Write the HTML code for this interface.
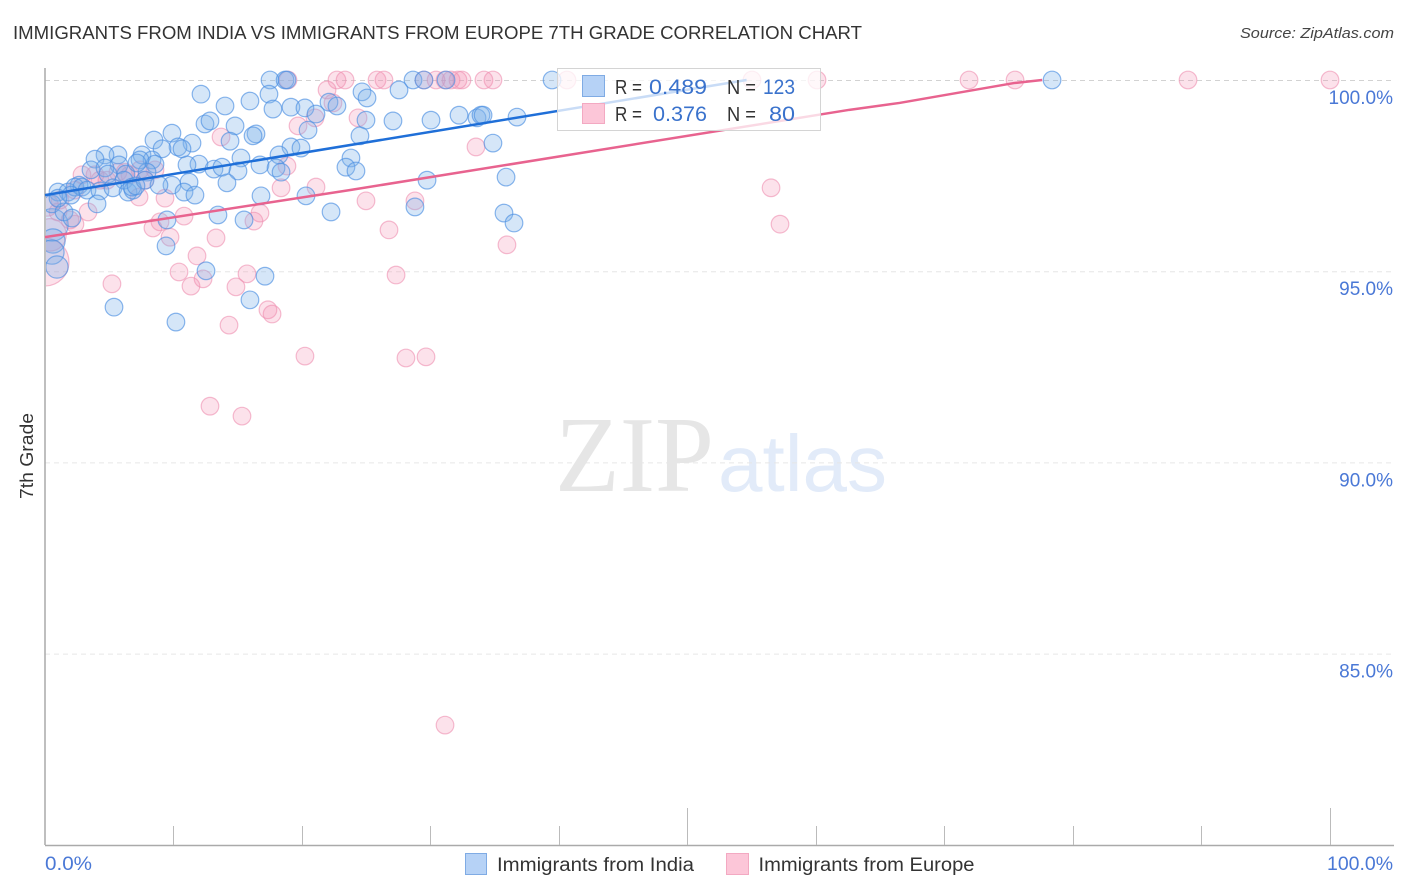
<!DOCTYPE html>
<html lang="en">
<head>
<meta charset="utf-8">
<title>Immigrants from India vs Immigrants from Europe 7th Grade Correlation Chart</title>
<style>
html,body{margin:0;padding:0;background:#fff;}
svg{display:block;}
text{font-family:"Liberation Sans",sans-serif;}
.tick{font-size:19px;fill:#4a78d6;}
.legtext{font-size:20px;fill:#333;}
.legval{font-size:21px;fill:#3a72cc;}
</style>
</head>
<body>
<svg id="chart" width="1406" height="892" viewBox="0 0 1406 892" xmlns="http://www.w3.org/2000/svg">
  <defs><clipPath id="plot-clip"><rect x="46" y="60" width="1348" height="785"/></clipPath></defs>
  <rect x="0" y="0" width="1406" height="892" fill="#fff"/>
  <text x="13" y="39" font-size="18" fill="#333" textLength="849" lengthAdjust="spacingAndGlyphs">IMMIGRANTS FROM INDIA VS IMMIGRANTS FROM EUROPE 7TH GRADE CORRELATION CHART</text>
  <text x="1240" y="38" font-size="15" font-style="italic" fill="#444" textLength="154" lengthAdjust="spacingAndGlyphs">Source: ZipAtlas.com</text>
  <g>
    <text x="555" y="491" style="font-family:'Liberation Serif',serif" font-size="108" fill="#e6e6e6" textLength="159" lengthAdjust="spacingAndGlyphs">ZIP</text>
    <text x="718" y="491" font-size="80" fill="#e2ebf9" textLength="169" lengthAdjust="spacingAndGlyphs">atlas</text>
  </g>
  <g id="grid"></g>
  <g id="axes"></g>
  <g id="points" clip-path="url(#plot-clip)"></g>
  <g id="trends"></g>
  <g>
    <rect x="557.5" y="68.5" width="263" height="62" fill="#fff" fill-opacity="0.76" stroke="#d4d4d4" stroke-width="1"/>
    <rect x="582.5" y="75.5" width="22" height="21" fill="#b6d2f6" stroke="#7fabe4" stroke-width="1"/>
    <rect x="582.5" y="103.5" width="22" height="20" fill="#fcc6d8" stroke="#f3a9c2" stroke-width="1"/>
    <text class="legtext" x="615" y="94" textLength="27" lengthAdjust="spacingAndGlyphs">R =</text>
    <text class="legval" x="649" y="94" textLength="58" lengthAdjust="spacingAndGlyphs">0.489</text>
    <text class="legtext" x="727" y="94" textLength="29" lengthAdjust="spacingAndGlyphs">N =</text>
    <text class="legval" x="763" y="94" textLength="32" lengthAdjust="spacingAndGlyphs">123</text>
    <text class="legtext" x="615" y="121" textLength="27" lengthAdjust="spacingAndGlyphs">R =</text>
    <text class="legval" x="653" y="121" textLength="54" lengthAdjust="spacingAndGlyphs">0.376</text>
    <text class="legtext" x="727" y="121" textLength="29" lengthAdjust="spacingAndGlyphs">N =</text>
    <text class="legval" x="769" y="121" textLength="26" lengthAdjust="spacingAndGlyphs">80</text>
  </g>
  <text transform="translate(33,456) rotate(-90)" text-anchor="middle" font-size="18" fill="#333" textLength="86" lengthAdjust="spacingAndGlyphs">7th Grade</text>
  <g>
    <g>
      <rect x="465.5" y="853.5" width="21" height="21" fill="#b6d2f6" stroke="#7fabe4" stroke-width="1"/>
      <text x="497" y="871" font-size="19" fill="#333" textLength="197" lengthAdjust="spacingAndGlyphs">Immigrants from India</text>
    </g>
    <g>
      <rect x="726.5" y="853.5" width="22" height="21" fill="#fcc6d8" stroke="#f3a9c2" stroke-width="1"/>
      <text x="758.5" y="871" font-size="19" fill="#333" textLength="216" lengthAdjust="spacingAndGlyphs">Immigrants from Europe</text>
    </g>
  </g>
</svg>
<script>
const yTicks = [100, 95, 90, 85];
const yTickLabels = ["100.0%", "95.0%", "90.0%", "85.0%"];
const xTicks = [0, 10, 20, 30, 40, 50, 60, 70, 80, 90, 100];
const xMajorTicks = [50, 100];
const xEndTicks = [0, 100];
const xEndLabels = ["0.0%", "100.0%"];

const indiaX = [17.51,18.68,18.83,28.64,29.49,31.21,39.46,78.37,12.14,17.43,14.01,15.95,17.74,19.14,20.23,22.10,24.67,25.06,22.72,27.55,21.09,27.08,30.04,32.22,33.62,33.93,34.09,36.73,24.98,12.45,12.84,14.79,9.88,8.48,16.42,16.19,20.47,14.40,24.51,11.44,10.35,10.66,9.11,19.14,19.92,34.86,5.68,4.67,3.89,7.55,8.33,8.56,7.39,5.76,11.98,11.05,13.15,13.77,15.25,15.02,16.73,18.21,17.98,18.37,23.81,23.42,24.20,3.58,4.67,4.90,6.30,7.94,6.15,7.16,2.65,1.01,1.79,2.33,2.88,3.27,4.28,5.29,6.46,6.85,6.77,7.78,9.88,8.87,11.21,10.82,11.67,14.16,16.81,20.31,29.73,35.88,0.54,1.48,2.10,4.05,9.49,13.46,15.49,22.26,28.79,35.72,36.50,9.42,12.53,17.12,15.95,5.37,10.19,2.02,1.01,7.08];
const indiaY = [100,100,100,100,100,100,100,100,99.63,99.63,99.32,99.45,99.24,99.29,99.27,99.42,99.69,99.53,99.32,99.74,99.11,98.93,98.95,99.08,99.01,99.08,99.08,99.03,98.95,98.85,98.93,98.80,98.61,98.43,98.59,98.54,98.69,98.40,98.54,98.35,98.25,98.20,98.20,98.25,98.22,98.35,98.04,98.04,97.93,98.04,97.91,97.80,97.91,97.78,97.80,97.78,97.67,97.72,97.96,97.62,97.78,98.04,97.70,97.59,97.96,97.72,97.62,97.65,97.70,97.54,97.54,97.59,97.38,97.83,97.25,97.07,97.07,97.20,97.20,97.12,97.10,97.18,97.07,97.12,97.20,97.38,97.25,97.25,97.33,97.07,96.99,97.31,96.97,96.97,97.38,97.46,96.76,96.55,96.39,96.76,96.34,96.47,96.34,96.55,96.68,96.52,96.26,95.66,95.01,94.87,94.25,94.06,93.67,96.99,96.91,97.23];
const indiaLargeX = [0.54,0.62,0.54,0.93];
const indiaLargeY = [96.21,95.79,95.50,95.11];
const indiaLargeWeight = [3.4,1.9,1.9,1.6];

const europeX = [1.01,1.95,3.35,2.33,2.88,4.28,4.82,6.23,7.78,7.32,9.34,8.40,8.95,9.73,10.82,13.31,11.83,10.43,11.36,12.30,15.72,14.86,5.21,17.35,17.67,14.32,20.23,28.09,29.65,12.84,15.33,31.13,13.70,18.91,22.72,23.35,25.84,26.38,29.49,30.43,31.13,31.60,32.14,32.45,34.16,34.86,40.62,55.02,60.08,71.91,75.49,88.95,100,21.95,19.69,22.41,21.01,24.36,33.54,18.37,21.09,16.73,16.26,24.98,26.77,27.32,28.79,35.95,56.50,57.20,18.83,7.39,5.68,2.33,1.17,6.61,8.56,3.89];
const europeY = [96.55,96.34,96.55,96.23,97.52,97.38,97.38,97.59,97.38,96.94,96.91,96.13,96.29,95.89,96.44,95.87,95.40,94.98,94.61,94.80,94.93,94.59,94.67,93.99,93.88,93.59,92.78,92.73,92.76,91.47,91.21,83.13,98.51,100,100,100,100,100,100,100,100,100,100,100,100,100,100,100,100,100,100,100,100,99.74,98.80,99.40,99.01,99.01,98.25,97.18,97.20,96.52,96.31,96.84,96.08,94.90,96.84,95.69,97.18,96.23,97.75,97.65,97.59,97.12,96.86,97.52,97.65,97.52];
const europeLargeX = [0,0.39,0.16];
const europeLargeY = [95.24,95.95,96.73];
const europeLargeWeight = [7.4,3.4,1.6];

const indiaTrendX = [0,54.6];
const indiaTrendY = [96.99,100];
const europeTrendX = [0,23.7,62.6,66.5,75.4,77.6];
const europeTrendY = [95.89,97.12,99.22,99.40,99.92,100];

const SVGNS = "http://www.w3.org/2000/svg";
function xScale(v){ return 45 + v * 12.85; }
function yScale(v){ return 80 + (100 - v) * 38.24; }
function rScale(w){ return 8.8 * Math.sqrt(w); }
function make(tag, attrs, parent){
  const el = document.createElementNS(SVGNS, tag);
  Object.keys(attrs).forEach(function(k){ el.setAttribute(k, attrs[k]); });
  parent.appendChild(el);
  return el;
}

const grid = document.getElementById("grid");
const axes = document.getElementById("axes");
const pointsG = document.getElementById("points");
const trends = document.getElementById("trends");
const root = document.getElementById("chart");

yTicks.forEach(function(t, i){
  const line = make("line", {x1:45, x2:1393, y1:yScale(t)+0.5, y2:yScale(t)+0.5, stroke:i===0?"#d2d2d2":"#e6e6e6", "stroke-width":1, "stroke-dasharray":"5 4"}, grid);
  
  
  const label = make("text", {x:1393, y:yScale(t)+24, "text-anchor":"end", class:"tick"}, root);
  label.textContent = yTickLabels[i];
  
  
});

const yAxisLine = make("line", {x1:45, x2:45, y1:68, y2:845, stroke:"#aaa", "stroke-width":1.5}, axes);


const xAxisLine = make("line", {x1:45, x2:1394, y1:845.5, y2:845.5, stroke:"#aaa", "stroke-width":1.5}, axes);



xTicks.forEach(function(t){
  if (t === 0) return;
  const major = xMajorTicks.indexOf(t) >= 0;
  const px = Math.floor(xScale(t)) + 0.5;
  const tick = make("line", {x1:px, x2:px, y1:major?808:826, y2:845, stroke:"#bbb", "stroke-width":1}, axes);
  
  
});

xEndTicks.forEach(function(t, i){
  const label = make("text", {x:i===0?xScale(t):xScale(t)+63, y:870, "text-anchor":i===0?"start":"end", class:"tick", textLength:i===0?47:66, lengthAdjust:"spacingAndGlyphs"}, root);
  label.textContent = xEndLabels[i];
  
  
});

const pinkStyle = {fill:"#f48fb1", "fill-opacity":0.26, stroke:"#ef8fb0", "stroke-opacity":0.6, "stroke-width":1.2};
const blueStyle = {fill:"#7db0ea", "fill-opacity":0.32, stroke:"#4b8fe2", "stroke-opacity":0.65, "stroke-width":1.2};

function drawSeries(xs, ys, weights, style, seriesName){
  xs.forEach(function(x, i){
    const attrs = Object.assign({cx:xScale(x), cy:yScale(ys[i]), r:rScale(weights ? weights[i] : 1)}, style);
    const c = make("circle", attrs, pointsG);
    
    
  });
}
drawSeries(europeLargeX, europeLargeY, europeLargeWeight, pinkStyle, 'point-europe');
drawSeries(europeX, europeY, null, pinkStyle, 'point-europe');
drawSeries(indiaLargeX, indiaLargeY, indiaLargeWeight, blueStyle, 'point-india');
drawSeries(indiaX, indiaY, null, blueStyle, 'point-india');

function trendPoints(xs, ys){
  return xs.map(function(x, i){ return xScale(x) + "," + yScale(ys[i]); }).join(" ");
}
const europeLine = make("polyline", {points:trendPoints(europeTrendX, europeTrendY), fill:"none", stroke:"#e8638f", "stroke-width":2.5}, trends);


const indiaLine = make("polyline", {points:trendPoints(indiaTrendX, indiaTrendY), fill:"none", stroke:"#1f6fd8", "stroke-width":2.5}, trends);


</script>
</body>
</html>
